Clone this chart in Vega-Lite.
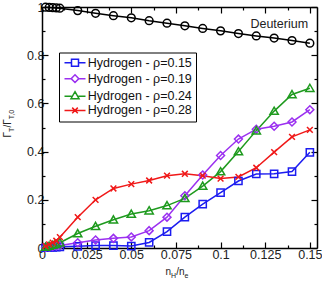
{
  "$schema": "https://vega.github.io/schema/vega-lite/v6.json",
  "width": 275,
  "height": 241,
  "autosize": {"type": "none"},
  "padding": {"left": 42, "top": 7, "right": 5, "bottom": 36},
  "background": "white",
  "datasets": {
    "hydrogen": [
      {"x": 0.002, "ratio": 0.001, "series": "Hydrogen - ρ=0.15"},
      {"x": 0.004, "ratio": 0.002, "series": "Hydrogen - ρ=0.15"},
      {"x": 0.006, "ratio": 0.003, "series": "Hydrogen - ρ=0.15"},
      {"x": 0.008, "ratio": 0.004, "series": "Hydrogen - ρ=0.15"},
      {"x": 0.01, "ratio": 0.005, "series": "Hydrogen - ρ=0.15"},
      {"x": 0.02, "ratio": 0.007, "series": "Hydrogen - ρ=0.15"},
      {"x": 0.03, "ratio": 0.01, "series": "Hydrogen - ρ=0.15"},
      {"x": 0.04, "ratio": 0.01, "series": "Hydrogen - ρ=0.15"},
      {"x": 0.05, "ratio": 0.008, "series": "Hydrogen - ρ=0.15"},
      {"x": 0.06, "ratio": 0.023, "series": "Hydrogen - ρ=0.15"},
      {"x": 0.07, "ratio": 0.068, "series": "Hydrogen - ρ=0.15"},
      {"x": 0.08, "ratio": 0.128, "series": "Hydrogen - ρ=0.15"},
      {"x": 0.09, "ratio": 0.182, "series": "Hydrogen - ρ=0.15"},
      {"x": 0.1, "ratio": 0.23, "series": "Hydrogen - ρ=0.15"},
      {"x": 0.11, "ratio": 0.278, "series": "Hydrogen - ρ=0.15"},
      {"x": 0.12, "ratio": 0.307, "series": "Hydrogen - ρ=0.15"},
      {"x": 0.13, "ratio": 0.308, "series": "Hydrogen - ρ=0.15"},
      {"x": 0.14, "ratio": 0.317, "series": "Hydrogen - ρ=0.15"},
      {"x": 0.15, "ratio": 0.397, "series": "Hydrogen - ρ=0.15"},
      {"x": 0.002, "ratio": 0.002, "series": "Hydrogen - ρ=0.19"},
      {"x": 0.004, "ratio": 0.004, "series": "Hydrogen - ρ=0.19"},
      {"x": 0.006, "ratio": 0.006, "series": "Hydrogen - ρ=0.19"},
      {"x": 0.008, "ratio": 0.008, "series": "Hydrogen - ρ=0.19"},
      {"x": 0.01, "ratio": 0.01, "series": "Hydrogen - ρ=0.19"},
      {"x": 0.02, "ratio": 0.022, "series": "Hydrogen - ρ=0.19"},
      {"x": 0.03, "ratio": 0.033, "series": "Hydrogen - ρ=0.19"},
      {"x": 0.04, "ratio": 0.04, "series": "Hydrogen - ρ=0.19"},
      {"x": 0.05, "ratio": 0.046, "series": "Hydrogen - ρ=0.19"},
      {"x": 0.06, "ratio": 0.072, "series": "Hydrogen - ρ=0.19"},
      {"x": 0.07, "ratio": 0.128, "series": "Hydrogen - ρ=0.19"},
      {"x": 0.08, "ratio": 0.217, "series": "Hydrogen - ρ=0.19"},
      {"x": 0.09, "ratio": 0.303, "series": "Hydrogen - ρ=0.19"},
      {"x": 0.1, "ratio": 0.384, "series": "Hydrogen - ρ=0.19"},
      {"x": 0.11, "ratio": 0.452, "series": "Hydrogen - ρ=0.19"},
      {"x": 0.12, "ratio": 0.493, "series": "Hydrogen - ρ=0.19"},
      {"x": 0.13, "ratio": 0.505, "series": "Hydrogen - ρ=0.19"},
      {"x": 0.14, "ratio": 0.523, "series": "Hydrogen - ρ=0.19"},
      {"x": 0.15, "ratio": 0.574, "series": "Hydrogen - ρ=0.19"},
      {"x": 0.002, "ratio": 0.004, "series": "Hydrogen - ρ=0.24"},
      {"x": 0.004, "ratio": 0.008, "series": "Hydrogen - ρ=0.24"},
      {"x": 0.006, "ratio": 0.012, "series": "Hydrogen - ρ=0.24"},
      {"x": 0.008, "ratio": 0.016, "series": "Hydrogen - ρ=0.24"},
      {"x": 0.01, "ratio": 0.022, "series": "Hydrogen - ρ=0.24"},
      {"x": 0.02, "ratio": 0.06, "series": "Hydrogen - ρ=0.24"},
      {"x": 0.03, "ratio": 0.09, "series": "Hydrogen - ρ=0.24"},
      {"x": 0.04, "ratio": 0.117, "series": "Hydrogen - ρ=0.24"},
      {"x": 0.05, "ratio": 0.141, "series": "Hydrogen - ρ=0.24"},
      {"x": 0.06, "ratio": 0.155, "series": "Hydrogen - ρ=0.24"},
      {"x": 0.07, "ratio": 0.176, "series": "Hydrogen - ρ=0.24"},
      {"x": 0.08, "ratio": 0.206, "series": "Hydrogen - ρ=0.24"},
      {"x": 0.09, "ratio": 0.257, "series": "Hydrogen - ρ=0.24"},
      {"x": 0.1, "ratio": 0.317, "series": "Hydrogen - ρ=0.24"},
      {"x": 0.11, "ratio": 0.4, "series": "Hydrogen - ρ=0.24"},
      {"x": 0.12, "ratio": 0.487, "series": "Hydrogen - ρ=0.24"},
      {"x": 0.13, "ratio": 0.568, "series": "Hydrogen - ρ=0.24"},
      {"x": 0.14, "ratio": 0.637, "series": "Hydrogen - ρ=0.24"},
      {"x": 0.15, "ratio": 0.663, "series": "Hydrogen - ρ=0.24"},
      {"x": 0.002, "ratio": 0.008, "series": "Hydrogen - ρ=0.28"},
      {"x": 0.004, "ratio": 0.015, "series": "Hydrogen - ρ=0.28"},
      {"x": 0.006, "ratio": 0.022, "series": "Hydrogen - ρ=0.28"},
      {"x": 0.008, "ratio": 0.03, "series": "Hydrogen - ρ=0.28"},
      {"x": 0.01, "ratio": 0.045, "series": "Hydrogen - ρ=0.28"},
      {"x": 0.02, "ratio": 0.128, "series": "Hydrogen - ρ=0.28"},
      {"x": 0.03, "ratio": 0.2, "series": "Hydrogen - ρ=0.28"},
      {"x": 0.04, "ratio": 0.247, "series": "Hydrogen - ρ=0.28"},
      {"x": 0.05, "ratio": 0.265, "series": "Hydrogen - ρ=0.28"},
      {"x": 0.06, "ratio": 0.28, "series": "Hydrogen - ρ=0.28"},
      {"x": 0.07, "ratio": 0.3, "series": "Hydrogen - ρ=0.28"},
      {"x": 0.08, "ratio": 0.308, "series": "Hydrogen - ρ=0.28"},
      {"x": 0.09, "ratio": 0.3, "series": "Hydrogen - ρ=0.28"},
      {"x": 0.1, "ratio": 0.288, "series": "Hydrogen - ρ=0.28"},
      {"x": 0.11, "ratio": 0.295, "series": "Hydrogen - ρ=0.28"},
      {"x": 0.12, "ratio": 0.333, "series": "Hydrogen - ρ=0.28"},
      {"x": 0.13, "ratio": 0.398, "series": "Hydrogen - ρ=0.28"},
      {"x": 0.14, "ratio": 0.461, "series": "Hydrogen - ρ=0.28"},
      {"x": 0.15, "ratio": 0.49, "series": "Hydrogen - ρ=0.28"}
    ],
    "deuterium": [
      {"x": 0.002, "ratio": 0.999},
      {"x": 0.004, "ratio": 0.998},
      {"x": 0.006, "ratio": 0.997},
      {"x": 0.008, "ratio": 0.996},
      {"x": 0.01, "ratio": 0.995},
      {"x": 0.02, "ratio": 0.985},
      {"x": 0.03, "ratio": 0.974},
      {"x": 0.04, "ratio": 0.964},
      {"x": 0.05, "ratio": 0.955},
      {"x": 0.06, "ratio": 0.943},
      {"x": 0.07, "ratio": 0.933},
      {"x": 0.08, "ratio": 0.922},
      {"x": 0.09, "ratio": 0.911},
      {"x": 0.1, "ratio": 0.901},
      {"x": 0.11, "ratio": 0.89},
      {"x": 0.12, "ratio": 0.88},
      {"x": 0.13, "ratio": 0.871},
      {"x": 0.14, "ratio": 0.861},
      {"x": 0.15, "ratio": 0.85}
    ]
  },
  "resolve": {
    "axis": {"x": "independent", "y": "independent"},
    "scale": {"color": "independent", "shape": "independent"}
  },
  "layer": [
    {
      "data": {"name": "hydrogen"},
      "mark": {"type": "line", "strokeWidth": 1.5},
      "encoding": {
        "x": {
          "field": "x", "type": "quantitative",
          "scale": {"domain": [0, 0.154], "nice": false, "zero": false},
          "axis": {
            "orient": "bottom",
            "values": [0, 0.0125, 0.025, 0.0375, 0.05, 0.0625, 0.075, 0.0875, 0.1, 0.1125, 0.125, 0.1375, 0.15],
            "tickSize": {"condition": {"test": "abs(datum.value*40 - round(datum.value*40)) < 0.000001", "value": -6}, "value": -3},
            "labelExpr": "abs(datum.value*40 - round(datum.value*40)) < 0.000001 ? format(datum.value, '~g') : ''",
            "labelPadding": 6,
            "title": "n", "titleFontSize": 10, "titleX": 123, "titleY": 26,
            "titleAlign": "left", "titleBaseline": "alphabetic"
          }
        },
        "y": {
          "field": "ratio", "type": "quantitative",
          "scale": {"domain": [0, 1], "nice": false, "zero": false},
          "axis": {
            "orient": "left",
            "values": [0, 0.1, 0.2, 0.3, 0.4, 0.5, 0.6, 0.7, 0.8, 0.9, 1],
            "tickSize": {"condition": {"test": "abs(datum.value*5 - round(datum.value*5)) < 0.000001", "value": -6}, "value": -3},
            "labelExpr": "abs(datum.value*5 - round(datum.value*5)) < 0.000001 ? format(datum.value, '~g') : ''",
            "labelPadding": 4,
            "title": "Γ", "titleFontSize": 10, "titleX": -31.5, "titleY": 130, "titleAngle": 270,
            "titleAlign": "left", "titleBaseline": "alphabetic"
          }
        },
        "color": {
          "field": "series", "type": "nominal", "legend": null,
          "scale": {
            "domain": ["Hydrogen - ρ=0.15", "Hydrogen - ρ=0.19", "Hydrogen - ρ=0.24", "Hydrogen - ρ=0.28"],
            "range": ["#1c1cf0", "#9b30f0", "#1e9a1e", "#f01818"]
          }
        }
      }
    },
    {
      "data": {"name": "hydrogen"},
      "mark": {"type": "point", "filled": false, "strokeWidth": 1.5, "size": 52, "opacity": 1},
      "encoding": {
        "x": {
          "field": "x", "type": "quantitative",
          "axis": {
            "orient": "top", "labels": false, "title": null,
            "values": [0, 0.0125, 0.025, 0.0375, 0.05, 0.0625, 0.075, 0.0875, 0.1, 0.1125, 0.125, 0.1375, 0.15],
            "tickSize": {"condition": {"test": "abs(datum.value*40 - round(datum.value*40)) < 0.000001", "value": -6}, "value": -3}
          }
        },
        "y": {
          "field": "ratio", "type": "quantitative",
          "axis": {
            "orient": "right", "labels": false, "title": null,
            "values": [0, 0.1, 0.2, 0.3, 0.4, 0.5, 0.6, 0.7, 0.8, 0.9, 1],
            "tickSize": {"condition": {"test": "abs(datum.value*5 - round(datum.value*5)) < 0.000001", "value": -6}, "value": -3}
          }
        },
        "color": {
          "field": "series", "type": "nominal", "legend": null,
          "scale": {
            "domain": ["Hydrogen - ρ=0.15", "Hydrogen - ρ=0.19", "Hydrogen - ρ=0.24", "Hydrogen - ρ=0.28"],
            "range": ["#1c1cf0", "#9b30f0", "#1e9a1e", "#f01818"]
          }
        },
        "shape": {
          "field": "series", "type": "nominal", "legend": null,
          "scale": {
            "domain": ["Hydrogen - ρ=0.15", "Hydrogen - ρ=0.19", "Hydrogen - ρ=0.24", "Hydrogen - ρ=0.28"],
            "range": ["square", "M0,-1.1L1.1,0L0,1.1L-1.1,0Z", "M0,-1.1L1.15,0.9H-1.15Z", "M-0.8,-0.8L0.8,0.8M-0.8,0.8L0.8,-0.8"]
          }
        }
      }
    },
    {
      "data": {"name": "deuterium"},
      "mark": {"type": "line", "strokeWidth": 1.5, "color": "black"},
      "encoding": {
        "x": {
          "field": "x", "type": "quantitative",
          "axis": {
            "orient": "bottom", "domain": false, "ticks": false, "labels": false,
            "title": "H", "titleFontSize": 7, "titleX": 128.6, "titleY": 29,
            "titleAlign": "left", "titleBaseline": "alphabetic"
          }
        },
        "y": {
          "field": "ratio", "type": "quantitative",
          "axis": {
            "orient": "left", "domain": false, "ticks": false, "labels": false,
            "title": "T", "titleFontSize": 7, "titleX": -29, "titleY": 124.4, "titleAngle": 270,
            "titleAlign": "left", "titleBaseline": "alphabetic"
          }
        }
      }
    },
    {
      "data": {"name": "deuterium"},
      "mark": {"type": "point", "shape": "circle", "filled": false, "strokeWidth": 1.5, "size": 60, "color": "black", "opacity": 1},
      "encoding": {
        "x": {
          "field": "x", "type": "quantitative",
          "axis": {
            "orient": "bottom", "domain": false, "ticks": false, "labels": false,
            "title": "/n", "titleFontSize": 10, "titleX": 133.7, "titleY": 26,
            "titleAlign": "left", "titleBaseline": "alphabetic"
          }
        },
        "y": {
          "field": "ratio", "type": "quantitative",
          "axis": {
            "orient": "left", "domain": false, "ticks": false, "labels": false,
            "title": "/Γ", "titleFontSize": 10, "titleX": -31.5, "titleY": 120.1, "titleAngle": 270,
            "titleAlign": "left", "titleBaseline": "alphabetic"
          }
        }
      }
    },
    {
      "data": {"values": [{"label": "Deuterium"}]},
      "mark": {"type": "text", "align": "right", "baseline": "middle", "font": "Liberation Sans", "fontSize": 12.5, "color": "#222222"},
      "encoding": {
        "text": {"field": "label", "type": "nominal"},
        "x": {
          "datum": 0.149, "type": "quantitative",
          "axis": {
            "orient": "bottom", "domain": false, "ticks": false, "labels": false,
            "title": "e", "titleFontSize": 7, "titleX": 142.1, "titleY": 29,
            "titleAlign": "left", "titleBaseline": "alphabetic"
          }
        },
        "y": {
          "datum": 0.929, "type": "quantitative",
          "axis": {
            "orient": "left", "domain": false, "ticks": false, "labels": false,
            "title": "T,0", "titleFontSize": 7, "titleX": -29, "titleY": 111.7, "titleAngle": 270,
            "titleAlign": "left", "titleBaseline": "alphabetic"
          }
        }
      }
    },
    {
      "data": {"name": "hydrogen"},
      "mark": {"type": "point", "filled": false, "strokeWidth": 1.5, "size": 49, "opacity": 0},
      "encoding": {
        "x": {"field": "x", "type": "quantitative", "axis": null},
        "y": {"field": "ratio", "type": "quantitative", "axis": null},
        "color": {
          "field": "series", "type": "nominal",
          "scale": {
            "domain": ["Hydrogen - ρ=0.15", "Hydrogen - ρ=0.19", "Hydrogen - ρ=0.24", "Hydrogen - ρ=0.28"],
            "range": ["#1c1cf0", "#9b30f0", "#1e9a1e", "#f01818"]
          },
          "legend": {
            "orient": "none", "legendX": 17, "legendY": 45.5, "title": null,
            "padding": 4, "strokeColor": "black", "fillColor": "white", "cornerRadius": 0,
            "symbolSize": 49, "symbolStrokeWidth": 1.5, "symbolOpacity": 1,
            "symbolOffset": 5.75, "labelOffset": 6.5, "rowPadding": 1.9,
            "labelFont": "Liberation Sans", "labelFontSize": 12.5, "labelColor": "#111111", "labelLimit": 0
          }
        },
        "shape": {
          "field": "series", "type": "nominal",
          "scale": {
            "domain": ["Hydrogen - ρ=0.15", "Hydrogen - ρ=0.19", "Hydrogen - ρ=0.24", "Hydrogen - ρ=0.28"],
            "range": [
              "M-3,0H-1M1,0H3M-1,-1H1V1H-1Z",
              "M-3,0H-1.1M1.1,0H3M0,-1.1L1.1,0L0,1.1L-1.1,0Z",
              "M-3,0.2H-0.95M0.95,0.2H3M0,-1.1L1.15,0.9H-1.15Z",
              "M-3,0H3M-0.8,-0.8L0.8,0.8M-0.8,0.8L0.8,-0.8"
            ]
          },
          "legend": {
            "orient": "none", "legendX": 17, "legendY": 45.5, "title": null,
            "padding": 4, "strokeColor": "black", "fillColor": "white", "cornerRadius": 0,
            "symbolSize": 49, "symbolStrokeWidth": 1.5, "symbolOpacity": 1,
            "symbolOffset": 5.75, "labelOffset": 6.5, "rowPadding": 1.9,
            "labelFont": "Liberation Sans", "labelFontSize": 12.5, "labelColor": "#111111", "labelLimit": 0
          }
        }
      }
    }
  ],
  "config": {
    "view": {"stroke": null},
    "axis": {
      "grid": false,
      "domainColor": "black",
      "domainWidth": 1.5,
      "tickColor": "black",
      "tickWidth": 1.2,
      "labelFont": "Liberation Sans",
      "labelFontSize": 12.5,
      "labelColor": "#222222",
      "labelFlush": false,
      "labelOverlap": false,
      "titleFont": "Liberation Sans",
      "titleFontWeight": "normal",
      "titleColor": "#222222"
    }
  }
}
